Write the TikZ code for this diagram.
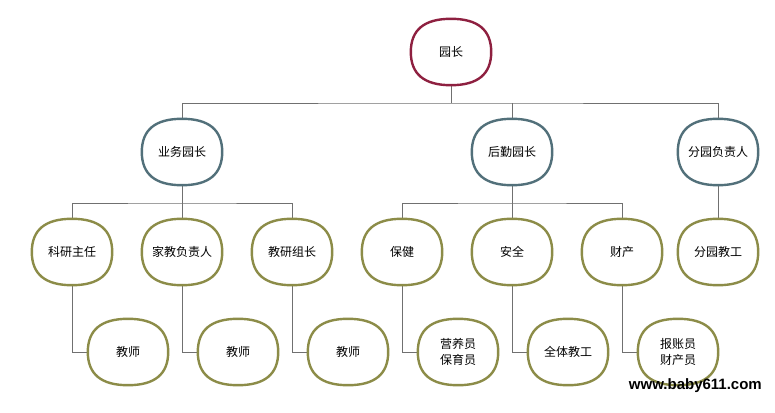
\documentclass[tikz,border=0pt]{standalone}
\usepackage{fontspec}
\usetikzlibrary{calc}
\newfontfamily\cjk{Noto Sans CJK SC}
\newfontfamily\wm{Liberation Sans}
\definecolor{rootc}{HTML}{8E2040}
\definecolor{midc}{HTML}{52707A}
\definecolor{leafc}{HTML}{8C8C48}
\definecolor{linec}{HTML}{707070}
\pgfdeclarelayer{bg}
\pgfsetlayers{bg,main}
\begin{document}
\begin{tikzpicture}[x=1pt,y=-1pt,
  box/.style={minimum width=80pt, minimum height=66pt, inner sep=0pt, align=center,
    font=\cjk\fontsize{12}{16}\selectfont},
  blob/.style={line width=2.4pt, fill=white},
  conn/.style={draw=linec, line width=1pt}]
\useasboundingbox (0,0) rectangle (775,412);
% nodes
\node[box] (root) at (451,52) {园长};
\node[box] (yw) at (182,152) {业务园长};
\node[box] (hq) at (512,152) {后勤园长};
\node[box] (fy) at (718,152) {分园负责人};
\node[box] (ky) at (72,252) {科研主任};
\node[box] (jj) at (182,252) {家教负责人};
\node[box] (jy) at (292,252) {教研组长};
\node[box] (bj) at (402,252) {保健};
\node[box] (aq) at (512,252) {安全};
\node[box] (cc) at (622,252) {财产};
\node[box] (fj) at (718,252) {分园教工};
\node[box] (js1) at (128,352) {教师};
\node[box] (js2) at (238,352) {教师};
\node[box] (js3) at (348,352) {教师};
\node[box] (yy) at (458,352) {营养员\\保育员};
\node[box] (qt) at (568,352) {全体教工};
\node[box] (bz) at (678,352) {报账员\\财产员};
\node[font=\wm\bfseries\fontsize{15}{18}\selectfont, anchor=east, inner sep=0pt] (wmk) at (762,386) {www.baby611.com};
\begin{pgfonlayer}{bg}
\fill[white] (0,0) rectangle (775,412);
% connectors
\coordinate (h1) at (451,103);
\draw[conn] (root.south) -- (h1);
\draw[conn] (yw.north) |- (h1) -| (fy.north);
\draw[conn] (hq.north) -- (hq.north |- h1);
\coordinate (h2) at (182,203);
\draw[conn] (yw.south) -- (h2);
\draw[conn] (ky.north) |- (h2) -| (jy.north);
\draw[conn] (jj.north) -- (h2);
\coordinate (h3) at (512,203);
\draw[conn] (hq.south) -- (h3);
\draw[conn] (bj.north) |- (h3) -| (cc.north);
\draw[conn] (aq.north) -- (h3);
\draw[conn] (fy.south) -- (fj.north);
\draw[conn] (ky.south) |- (js1.west);
\draw[conn] (jj.south) |- (js2.west);
\draw[conn] (jy.south) |- (js3.west);
\draw[conn] (bj.south) |- (yy.west);
\draw[conn] (aq.south) |- (qt.west);
\draw[conn] (cc.south) |- (bz.west);
% node outlines
\foreach \n/\c in {root/rootc,yw/midc,hq/midc,fy/midc,ky/leafc,jj/leafc,jy/leafc,bj/leafc,aq/leafc,cc/leafc,fj/leafc,js1/leafc,js2/leafc,js3/leafc,yy/leafc,qt/leafc,bz/leafc}{
  \draw[blob, draw=\c] (\n.north)
    .. controls ($(\n.north)+(27,0)$) and ($(\n.east)+(0,-22)$) .. (\n.east)
    .. controls ($(\n.east)+(0,22)$) and ($(\n.south)+(27,0)$) .. (\n.south)
    .. controls ($(\n.south)+(-27,0)$) and ($(\n.west)+(0,22)$) .. (\n.west)
    .. controls ($(\n.west)+(0,-22)$) and ($(\n.north)+(-27,0)$) .. (\n.north) -- cycle;
}
\end{pgfonlayer}
\end{tikzpicture}
\end{document}
